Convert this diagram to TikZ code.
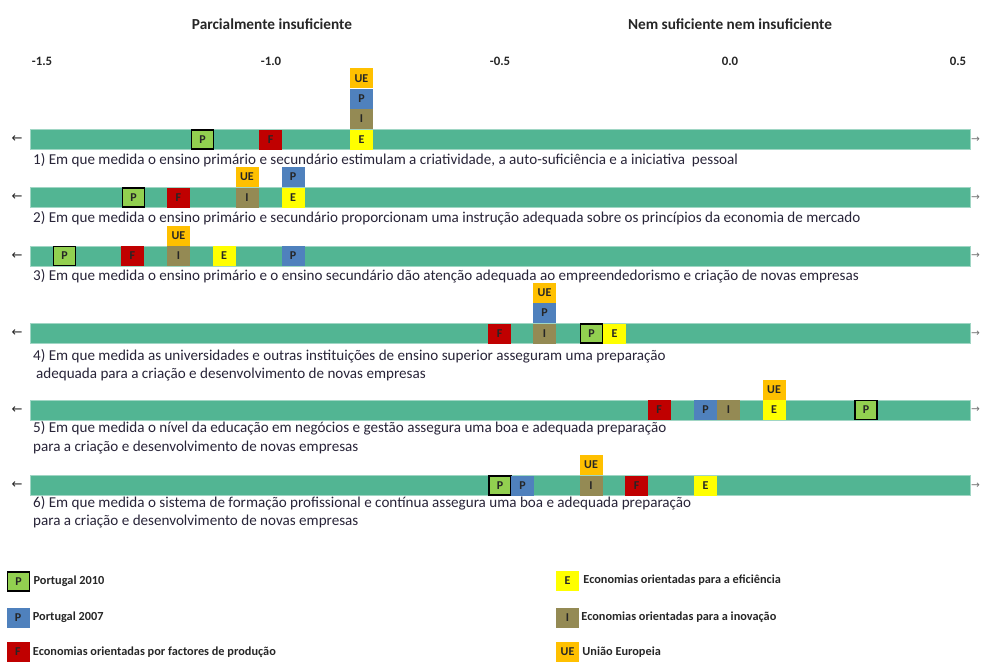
\documentclass[tikz,border=0pt]{standalone}
\usepackage{fontspec}
\setmainfont{Carlito}
\newfontfamily\arrowfont{DejaVu Sans}
\usepackage{xcolor}
\usetikzlibrary{positioning}

\definecolor{barGreen}{RGB}{82,181,147}
\definecolor{ptNew}{RGB}{146,208,80}
\definecolor{ptOld}{RGB}{79,129,189}
\definecolor{facRed}{RGB}{192,0,0}
\definecolor{effYellow}{RGB}{255,255,0}
\definecolor{innOlive}{RGB}{148,138,84}
\definecolor{euOrange}{RGB}{255,192,0}
\definecolor{textDark}{RGB}{40,36,56}

\begin{document}
\begin{tikzpicture}[
    x=1pt, y=-1pt,
    head/.style={font=\fontsize{15.3}{17}\selectfont\bfseries, text=black!85},
    tick/.style={font=\fontsize{12.8}{14}\selectfont\bfseries, text=black!85},
    bar/.style={rectangle, fill=barGreen, draw=barGreen!55!white, line width=0.6pt, minimum width=940pt, minimum height=20pt, inner sep=0pt},
    cell/.style={rectangle, minimum width=23pt, minimum height=20pt, inner sep=0pt, font=\fontsize{12}{12}\selectfont\bfseries, text=black!85},
    pnew/.style={cell, fill=ptNew, draw=black, line width=1.8pt, minimum width=22pt, minimum height=19pt},
    pold/.style={cell, fill=ptOld},
    fac/.style={cell, fill=facRed},
    eff/.style={cell, fill=effYellow},
    inn/.style={cell, fill=innOlive},
    eu/.style={cell, fill=euOrange},
    question/.style={anchor=base west, inner sep=0pt, font=\fontsize{15.1}{18}\selectfont, text=textDark},
    arrl/.style={font=\arrowfont\fontsize{13}{13}\selectfont, text=black!85, inner sep=0pt},
    arrr/.style={font=\arrowfont\fontsize{10.5}{11}\selectfont, text=black!55, inner sep=0pt},
    legend/.style={anchor=west, inner sep=0pt, font=\fontsize{12.3}{14}\selectfont\bfseries, text=black!85}
]
\useasboundingbox (0,0) rectangle (981,661);

% Scale
\node[head] (hpi) at (272,24) {Parcialmente insuficiente};
\node[head] (hnn) at (730,24) {Nem suficiente nem insuficiente};
\node[tick] (t15) at (42,61) {-1.5};
\node[tick] (t10) at (271,61) {-1.0};
\node[tick] (t05) at (500,61) {-0.5};
\node[tick] (t00) at (730,61) {0.0};
\node[tick] (t50) at (958,61) {0.5};

% Row 1
\node[bar] (bar1) at (500,139.5) {};
\node[arrl] (al1) at (17,139.5) {←};
\node[arrr] (ar1) at (975.5,139.5) {→};
\node[pnew] (r1pn) at (202.5,139.5) {P};
\node[fac] (r1f) at (270.5,139.5) {F};
\node[eff] (r1e) at (361.5,139.5) {E};
\node[inn, above=0pt of r1e] (r1i) {I};
\node[pold, above=0pt of r1i] (r1po) {P};
\node[eu, above=0pt of r1po] (r1ue) {UE};
\node[question] (q1) at (33,164.5) {1) Em que medida o ensino primário e secundário estimulam a criatividade, a auto-suficiência e a iniciativa\ \ pessoal};

% Row 2
\node[bar] (bar2) at (500,197.5) {};
\node[arrl] (al2) at (17,197.5) {←};
\node[arrr] (ar2) at (975.5,197.5) {→};
\node[pnew] (r2pn) at (133.5,197.5) {P};
\node[fac] (r2f) at (178.5,197.5) {F};
\node[inn] (r2i) at (247,197.5) {I};
\node[eu, above=0pt of r2i] (r2ue) {UE};
\node[eff] (r2e) at (293,197.5) {E};
\node[pold, above=0pt of r2e] (r2po) {P};
\node[question] (q2) at (33,222) {2) Em que medida o ensino primário e secundário proporcionam uma instrução adequada sobre os princípios da economia de mercado};

% Row 3
\node[bar] (bar3) at (500,256) {};
\node[arrl] (al3) at (17,256) {←};
\node[arrr] (ar3) at (975.5,256) {→};
\node[pnew] (r3pn) at (64.5,256) {P};
\node[fac] (r3f) at (132.5,256) {F};
\node[inn] (r3i) at (178.5,256) {I};
\node[eu, above=0pt of r3i] (r3ue) {UE};
\node[eff] (r3e) at (224,256) {E};
\node[pold] (r3po) at (293,256) {P};
\node[question] (q3) at (33,280.5) {3) Em que medida o ensino primário e o ensino secundário dão atenção adequada ao empreendedorismo e criação de novas empresas};

% Row 4
\node[bar] (bar4) at (500,333.5) {};
\node[arrl] (al4) at (17,333.5) {←};
\node[arrr] (ar4) at (975.5,333.5) {→};
\node[fac] (r4f) at (499.5,333.5) {F};
\node[inn] (r4i) at (544.5,333.5) {I};
\node[pold, above=0pt of r4i] (r4po) {P};
\node[eu, above=0pt of r4po] (r4ue) {UE};
\node[pnew] (r4pn) at (591.5,333.5) {P};
\node[eff] (r4e) at (614.5,333.5) {E};
\node[question] (q4) at (33,360.5) {4) Em que medida as universidades e outras instituições de ensino superior asseguram uma preparação};
\node[question] (q4b) at (36,378.5) {adequada para a criação e desenvolvimento de novas empresas};

% Row 5
\node[bar] (bar5) at (500,410) {};
\node[arrl] (al5) at (17,410) {←};
\node[arrr] (ar5) at (975.5,410) {→};
\node[fac] (r5f) at (659,410) {F};
\node[pold] (r5po) at (705.5,410) {P};
\node[inn] (r5i) at (728.5,410) {I};
\node[eff] (r5e) at (774,410) {E};
\node[eu, above=0pt of r5e] (r5ue) {UE};
\node[pnew] (r5pn) at (866,410) {P};
\node[question] (q5) at (33,432.5) {5) Em que medida o nível da educação em negócios e gestão assegura uma boa e adequada preparação};
\node[question] (q5b) at (33,451) {para a criação e desenvolvimento de novas empresas};

% Row 6
\node[bar] (bar6) at (500,485.5) {};
\node[arrl] (al6) at (17,485.5) {←};
\node[arrr] (ar6) at (975.5,485.5) {→};
\node[pnew] (r6pn) at (500,485.5) {P};
\node[pold] (r6po) at (522.5,485.5) {P};
\node[inn] (r6i) at (591,485.5) {I};
\node[eu, above=0pt of r6i] (r6ue) {UE};
\node[fac] (r6f) at (636.5,485.5) {F};
\node[eff] (r6e) at (705.5,485.5) {E};
\node[question] (q6) at (33,507) {6) Em que medida o sistema de formação profissional e contínua assegura uma boa e adequada preparação};
\node[question] (q6b) at (33,525) {para a criação e desenvolvimento de novas empresas};

% Legend
\node[pnew] (lpn) at (18.5,581.5) {P};
\node[legend, right=3pt of lpn] (tpn) {Portugal 2010};
\node[pold] (lpo) at (18,617.5) {P};
\node[legend, right=3pt of lpo] (tpo) {Portugal 2007};
\node[fac] (lf) at (18,652) {F};
\node[legend, right=3pt of lf] (tf) {Economias orientadas por factores de produção};
\node[eff] (le) at (567.5,580.5) {E};
\node[legend, right=4pt of le] (te) {Economias orientadas para a eficiência};
\node[inn] (li) at (567.5,617.5) {I};
\node[legend, right=2pt of li] (ti) {Economias orientadas para a inovação};
\node[eu] (lue) at (567.5,652) {UE};
\node[legend, right=3pt of lue] (tue) {União Europeia};

\end{tikzpicture}
\end{document}
